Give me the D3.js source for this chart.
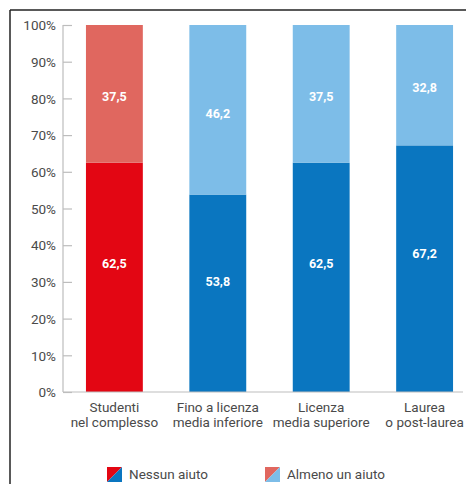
<!DOCTYPE html>
<html>
<head>
<meta charset="utf-8">
<script src="https://cdn.jsdelivr.net/npm/d3@7"></script>
<style>
  html, body { margin: 0; padding: 0; background: #fff; }
  svg { display: block; font-family: Roboto, "Noto Sans", sans-serif; }
</style>
</head>
<body>
<svg id="chart" width="467" height="484"></svg>
<script>
// Categories (two-line labels) and stacked shares, in percent
const categories = [
  ["Studenti", "nel complesso"],
  ["Fino a licenza", "media inferiore"],
  ["Licenza", "media superiore"],
  ["Laurea", "o post-laurea"]
];
const nessunAiuto = [62.5, 53.8, 62.5, 67.2];
const almenoUnAiuto = [37.5, 46.2, 37.5, 32.8];
const yTicks = [0, 10, 20, 30, 40, 50, 60, 70, 80, 90, 100];
const legendLabels = ["Nessun aiuto", "Almeno un aiuto"];

// First bar is the total, drawn in reds; the rest in blues
const darkColors = ["#e30613", "#0a76c0", "#0a76c0", "#0a76c0"];
const lightColors = ["#e0675f", "#7dbde8", "#7dbde8", "#7dbde8"];

const svg = d3.select("#chart");
const textColor = "#4a4a4a";

// Frame lines
svg.append("line").attr("x1", 10).attr("x2", 466).attr("y1", 10).attr("y2", 10)
  .attr("stroke", "#222").attr("stroke-width", 1.5);
svg.append("line").attr("x1", 10).attr("x2", 10).attr("y1", 10).attr("y2", 484)
  .attr("stroke", "#222").attr("stroke-width", 1.5);

const y = d3.scaleLinear().domain([0, 100]).range([392, 25]);
const x = d3.scaleBand()
  .domain(d3.range(categories.length))
  .range([63, 476])
  .paddingInner(0.45)
  .paddingOuter(0.222);

// Y axis
const yAxis = svg.append("g").attr("transform", "translate(63,0)")
  .call(d3.axisRight(y).tickValues(yTicks).tickSize(9).tickFormat(d => d + "%"));
yAxis.select(".domain").remove();
yAxis.selectAll(".tick line").attr("stroke", "#bdbdbd").attr("stroke-width", 1.2);
yAxis.selectAll(".tick text")
  .attr("x", -7).attr("text-anchor", "end")
  .attr("fill", textColor).attr("font-size", 13.5).attr("dy", "0.35em")
  .style("font-family", "Roboto, sans-serif");
svg.append("line").attr("x1", 63).attr("x2", 63).attr("y1", y(100)).attr("y2", y(0))
  .attr("stroke", "#bdbdbd").attr("stroke-width", 1.2);

// Bars
const bars = svg.append("g");
bars.selectAll("rect.low").data(nessunAiuto).join("rect")
  .attr("class", "low")
  .attr("x", (d, i) => x(i)).attr("width", x.bandwidth())
  .attr("y", d => y(d)).attr("height", d => y(0) - y(d))
  .attr("fill", (d, i) => darkColors[i]);
bars.selectAll("rect.high").data(almenoUnAiuto).join("rect")
  .attr("class", "high")
  .attr("x", (d, i) => x(i)).attr("width", x.bandwidth())
  .attr("y", (d, i) => y(nessunAiuto[i] + d))
  .attr("height", (d, i) => y(nessunAiuto[i]) - y(nessunAiuto[i] + d))
  .attr("fill", (d, i) => lightColors[i]);

// Baseline
svg.append("line").attr("x1", 63).attr("x2", 463).attr("y1", y(0)).attr("y2", y(0))
  .attr("stroke", "#bdbdbd").attr("stroke-width", 1.2);

// Value labels
const fmt = v => d3.format(".1f")(v).replace(".", ",");
const labels = svg.append("g")
  .attr("fill", "#fff").attr("font-size", 12.5).attr("font-weight", "bold")
  .attr("text-anchor", "middle");
labels.selectAll("text.low").data(nessunAiuto).join("text")
  .attr("class", "low")
  .attr("x", (d, i) => x(i) + x.bandwidth() / 2)
  .attr("y", d => y(d * 0.56)).attr("dy", "0.35em")
  .text(fmt);
labels.selectAll("text.high").data(almenoUnAiuto).join("text")
  .attr("class", "high")
  .attr("x", (d, i) => x(i) + x.bandwidth() / 2)
  .attr("y", (d, i) => y(nessunAiuto[i] + d * 0.48)).attr("dy", "0.35em")
  .text(fmt);

// Category labels
const cat = svg.append("g").attr("fill", textColor).attr("font-size", 13.5)
  .attr("text-anchor", "middle");
categories.forEach((lines, i) => {
  lines.forEach((t, j) => {
    cat.append("text")
      .attr("x", x(i) + x.bandwidth() / 2)
      .attr("y", 407 + j * 15).attr("dy", "0.35em")
      .text(t);
  });
});

// Legend: split swatches (red/blue diagonal)
const legendItems = [
  { x: 107, label: legendLabels[0], a: darkColors[0], b: darkColors[1] },
  { x: 265, label: legendLabels[1], a: lightColors[0], b: lightColors[1] }
];
const lg = svg.append("g");
legendItems.forEach(it => {
  const s = 15, top = 467;
  lg.append("path")
    .attr("d", `M${it.x},${top}H${it.x + s}L${it.x},${top + s}Z`)
    .attr("fill", it.a);
  lg.append("path")
    .attr("d", `M${it.x + s},${top}V${top + s}H${it.x}Z`)
    .attr("fill", it.b);
  lg.append("text")
    .attr("x", it.x + s + 7).attr("y", top + 7.5).attr("dy", "0.35em")
    .attr("fill", textColor).attr("font-size", 13.5)
    .text(it.label);
});
</script>
</body>
</html>
